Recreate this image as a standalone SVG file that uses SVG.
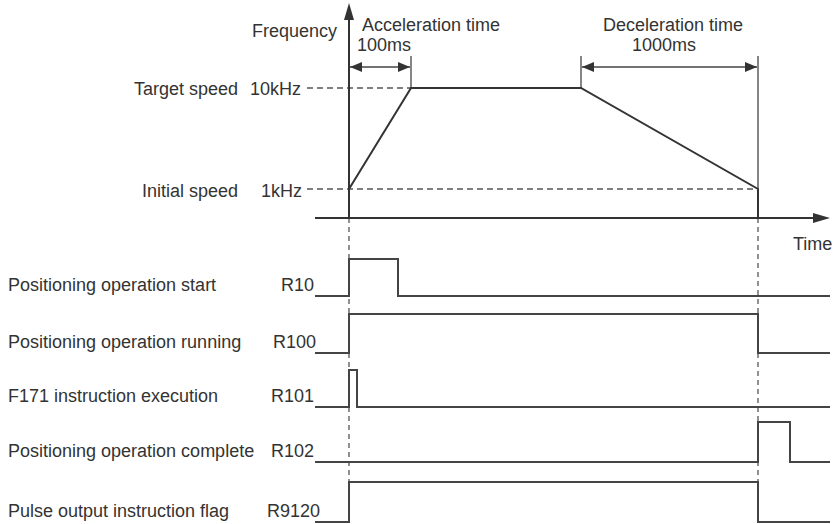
<svg xmlns="http://www.w3.org/2000/svg" width="835" height="524" viewBox="0 0 835 524">
<style>
text{font-family:"Liberation Sans",Arial,sans-serif;font-size:18px;fill:#333}
.end{text-anchor:end}
.sig{fill:none;stroke:#444;stroke-width:2}
.ax{fill:none;stroke:#333;stroke-width:2}
.dim{fill:none;stroke:#444;stroke-width:1.3}
.dh{fill:none;stroke:#555;stroke-width:1.3;stroke-dasharray:6 4}
.dv{fill:none;stroke:#555;stroke-width:1.3;stroke-dasharray:5 4}
</style>
<defs>
<marker id="ah" viewBox="0 0 12 10" refX="12" refY="5" markerWidth="12" markerHeight="10" markerUnits="userSpaceOnUse" orient="auto-start-reverse">
<path d="M0,0 L12,5 L0,10 Z" fill="#333"/>
</marker>
</defs>
<rect width="835" height="524" fill="#fff"/>
<g id="connectors">
<line class="dh" x1="307" y1="88" x2="411" y2="88"/>
<line class="dh" x1="307" y1="189" x2="758" y2="189"/>
<line class="dv" x1="349" y1="218" x2="349" y2="482"/>
<line class="dv" x1="758" y1="218" x2="758" y2="482"/>
<line class="dim" x1="411" y1="56" x2="411" y2="88"/>
<line class="dim" x1="581" y1="56" x2="581" y2="88"/>
<line class="dim" x1="758" y1="56" x2="758" y2="189"/>
<line class="dim" x1="350" y1="67" x2="410" y2="67" marker-start="url(#ah)" marker-end="url(#ah)"/>
<line class="dim" x1="582" y1="67" x2="757" y2="67" marker-start="url(#ah)" marker-end="url(#ah)"/>
</g>
<g id="axes">
<line class="ax" x1="349" y1="218" x2="349" y2="18"/>
<path d="M349,3 L354,20 L344,20 Z" fill="#333"/>
<line class="ax" x1="315" y1="218" x2="815" y2="218"/>
<path d="M830,218 L813,213 L813,223 Z" fill="#333"/>
<text x="337" y="37" class="end">Frequency</text>
<text x="793" y="250">Time</text>
</g>
<g id="speed-profile">
<polyline class="ax" points="349,189 411,88 581,88 758,189 758,218"/>
<text x="238" y="95" class="end">Target speed</text>
<text x="301" y="95" class="end">10kHz</text>
<text x="238" y="197" class="end">Initial speed</text>
<text x="302" y="197" class="end">1kHz</text>
</g>
<g id="acceleration-time">
<text x="362" y="31">Acceleration time</text>
<text x="357" y="51">100ms</text>
</g>
<g id="deceleration-time">
<text x="603" y="31">Deceleration time</text>
<text x="632" y="51">1000ms</text>
</g>
<g id="R10">
<text x="8" y="291">Positioning operation start</text>
<text x="314" y="291" class="end">R10</text>
<polyline class="sig" points="315,296 349,296 349,259 398,259 398,296 830,296"/>
</g>
<g id="R100">
<text x="8" y="348">Positioning operation running</text>
<text x="316" y="348" class="end">R100</text>
<polyline class="sig" points="315,353 349,353 349,314 758,314 758,353 830,353"/>
</g>
<g id="R101">
<text x="8" y="402">F171 instruction execution</text>
<text x="314" y="402" class="end">R101</text>
<polyline class="sig" points="315,407 349,407 349,370 357,370 357,407 830,407"/>
</g>
<g id="R102">
<text x="8" y="457">Positioning operation complete</text>
<text x="314" y="457" class="end">R102</text>
<polyline class="sig" points="315,462 758,462 758,422 790,422 790,462 830,462"/>
</g>
<g id="R9120">
<text x="8" y="517">Pulse output instruction flag</text>
<text x="320" y="517" class="end">R9120</text>
<polyline class="sig" points="315,522 349,522 349,482 758,482 758,522 830,522"/>
</g>
</svg>
